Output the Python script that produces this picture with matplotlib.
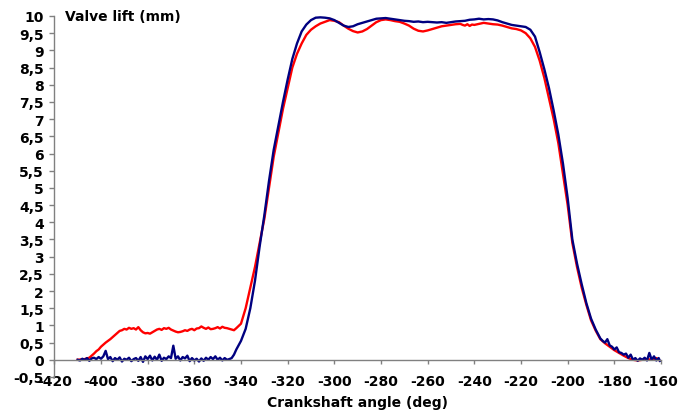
import numpy as np
import matplotlib.pyplot as plt

# crankshaft angle (deg) / valve lift (mm)
red_x = [-410, -407, -405, -404, -403, -402, -401, -400, -398, -396, -394, -392, -391, -390,
         -389, -388, -387, -386, -385, -384, -383, -382, -381, -380, -379, -378, -377, -376,
         -375, -374, -373, -372, -371, -370, -369, -368, -367, -366, -365, -364, -363, -362,
         -361, -360, -359, -358, -357, -356, -355, -354, -353, -352, -351, -350, -349, -348,
         -347, -346, -345, -344, -343, -342, -340, -338, -336, -334, -332, -330, -328, -326,
         -324, -322, -320, -318, -316, -314, -312, -310, -308, -306, -304, -302, -300, -298,
         -296, -294, -292, -290, -288, -286, -284, -282, -280, -278, -276, -274, -272, -270,
         -268, -266, -264, -262, -260, -258, -256, -254, -252, -250, -248, -246, -245, -244,
         -243, -242, -241, -240, -238, -236, -234, -232, -230, -228, -226, -224, -222, -220,
         -218, -216, -214, -212, -210, -208, -206, -204, -202, -200, -198, -196, -194, -192,
         -190, -188, -186, -184, -182, -180, -178, -176, -174, -172, -170, -168, -166, -164,
         -162, -161]
red_y = [0.0, 0.02, 0.06, 0.12, 0.18, 0.25, 0.3, 0.38, 0.5, 0.6, 0.72, 0.84, 0.86, 0.9,
         0.88, 0.93, 0.9, 0.92, 0.88, 0.95, 0.86, 0.8, 0.77, 0.78, 0.76, 0.8, 0.84, 0.88,
         0.9, 0.87, 0.92, 0.9, 0.93, 0.88, 0.85, 0.82, 0.8, 0.81, 0.83, 0.86, 0.84, 0.88,
         0.9, 0.86, 0.91, 0.92, 0.97, 0.93, 0.9, 0.94, 0.89, 0.9, 0.92, 0.95, 0.91, 0.96,
         0.93, 0.92, 0.9, 0.88, 0.86, 0.92, 1.05, 1.5, 2.1, 2.7, 3.4, 4.1, 5.0, 5.9,
         6.6, 7.3, 7.9, 8.5, 8.9, 9.2, 9.45, 9.6, 9.7, 9.78, 9.83, 9.88, 9.86, 9.82,
         9.72, 9.63, 9.56, 9.52, 9.55, 9.62, 9.72, 9.82, 9.88, 9.9, 9.88, 9.85, 9.83, 9.78,
         9.72, 9.63, 9.57, 9.55, 9.58, 9.62, 9.66, 9.7, 9.72, 9.74, 9.76, 9.77, 9.74, 9.72,
         9.76, 9.71, 9.75, 9.74, 9.77, 9.8, 9.78, 9.76, 9.75, 9.72, 9.68, 9.64, 9.62, 9.58,
         9.5, 9.35, 9.1, 8.7, 8.2, 7.6, 7.0, 6.3, 5.4, 4.5, 3.4, 2.7, 2.1, 1.6,
         1.15, 0.85, 0.6, 0.48, 0.38, 0.28, 0.2, 0.12, 0.05, 0.0, -0.02, 0.0, 0.02, 0.0,
         0.05, 0.0]

blue_x = [-410, -409, -408, -407, -406, -405, -404, -403, -402, -401, -400, -399, -398, -397,
          -396, -395, -394, -393, -392, -391, -390, -389, -388, -387, -386, -385, -384, -383,
          -382, -381, -380, -379, -378, -377, -376, -375, -374, -373, -372, -371, -370, -369,
          -368, -367, -366, -365, -364, -363, -362, -361, -360, -359, -358, -357, -356, -355,
          -354, -353, -352, -351, -350, -349, -348, -347, -346, -345, -344, -343, -342, -340,
          -338, -336, -334, -332, -330, -328, -326, -324, -322, -320, -318, -316, -314, -312,
          -310, -308, -306, -304, -302, -300, -298, -296, -294, -292, -290, -288, -286, -284,
          -282, -280, -278, -276, -274, -272, -270, -268, -266, -264, -262, -260, -258, -256,
          -254, -252, -250, -248, -246, -244, -242, -240, -238, -236, -234, -232, -230, -228,
          -226, -224, -222, -220, -218, -216, -214, -212, -210, -208, -206, -204, -202, -200,
          -198, -196, -194, -192, -190, -188, -186, -185, -184, -183, -182, -181, -180, -179,
          -178, -177, -176, -175, -174, -173, -172, -171, -170, -169, -168, -167, -166, -165,
          -164, -163, -162, -161, -160.5]
blue_y = [0.0, -0.02, 0.03, 0.0, 0.05, -0.03, 0.04, 0.06, 0.02, 0.08, 0.03, 0.1, 0.26, 0.02,
          0.08, -0.04, 0.05, 0.0, 0.07, -0.05, 0.03, 0.0, 0.06, -0.04, 0.02, 0.05, -0.03, 0.08,
          -0.06, 0.1, 0.02, 0.12, -0.02, 0.09, 0.0, 0.15, -0.03, 0.06, 0.02, 0.1, 0.05, 0.41,
          0.03, 0.1, -0.02, 0.08, 0.04, 0.12, -0.04, 0.05, -0.02, 0.03, -0.05, 0.04, -0.03, 0.06,
          0.0, 0.08, 0.02, 0.1, 0.0, 0.06, -0.02, 0.05, 0.0, 0.02, 0.05, 0.15, 0.3, 0.55,
          0.9, 1.5, 2.3, 3.3, 4.2, 5.2, 6.1, 6.8, 7.5, 8.15, 8.75, 9.2, 9.55, 9.75,
          9.88, 9.95, 9.96, 9.95, 9.93, 9.88, 9.8, 9.72, 9.68, 9.7, 9.76, 9.8, 9.84, 9.88,
          9.92, 9.93, 9.94, 9.92, 9.9, 9.88, 9.86, 9.85, 9.83, 9.84, 9.82, 9.83, 9.82, 9.81,
          9.82, 9.8, 9.82, 9.84, 9.85, 9.86, 9.89, 9.9, 9.92, 9.9, 9.91, 9.9, 9.87, 9.82,
          9.78, 9.74, 9.72, 9.7, 9.68, 9.6, 9.4, 8.95, 8.45, 7.9, 7.25, 6.55, 5.7, 4.7,
          3.5, 2.8, 2.2, 1.65, 1.2, 0.88, 0.62, 0.55, 0.5, 0.6, 0.42, 0.38, 0.3, 0.36,
          0.22, 0.2, 0.15, 0.18, 0.06, 0.15, 0.0, 0.05, -0.03, 0.04, 0.0, 0.06, -0.02, 0.2,
          0.0, 0.1, -0.02, 0.05, -0.03]

x_ticks = list(range(-420, -159, 20))
y_ticks = [i * 0.5 for i in range(-1, 21)]

plt.rcParams['font.family'] = 'DejaVu Sans'
plt.rcParams['font.weight'] = 'bold'

fig = plt.figure(figsize=(6.79, 4.14), dpi=100)
ax = fig.add_axes([0.08, 0.087, 0.8935, 0.872])

ax.plot(red_x, red_y, color='#ff0000', lw=1.7)
ax.plot(blue_x, blue_y, color='#000080', lw=1.7)

ax.set_xlim(-420, -160)
ax.set_ylim(-0.5, 10)

ax.spines['top'].set_visible(False)
ax.spines['right'].set_visible(False)
ax.spines['bottom'].set_position(('data', 0))
for s in ('left', 'bottom'):
    ax.spines[s].set_color('#808080')
    ax.spines[s].set_linewidth(1.0)

ax.set_xticks(x_ticks)
ax.set_xticklabels([str(v) for v in x_ticks])
ax.set_yticks(y_ticks)
ax.set_yticklabels([('%g' % v).replace('.', ',') for v in y_ticks])
ax.tick_params(axis='x', direction='out', length=3, width=1, color='#808080',
               pad=7.5, labelsize=10)
ax.tick_params(axis='y', direction='out', length=3.5, width=1, color='#808080',
               pad=4, labelsize=10)

ax.text(-415.4, 10, 'Valve lift (mm)', fontsize=10, fontweight='bold',
        ha='left', va='center')
ax.set_xlabel('Crankshaft angle (deg)', fontsize=10, fontweight='bold', labelpad=5)

fig.savefig('out.png', dpi=100)
